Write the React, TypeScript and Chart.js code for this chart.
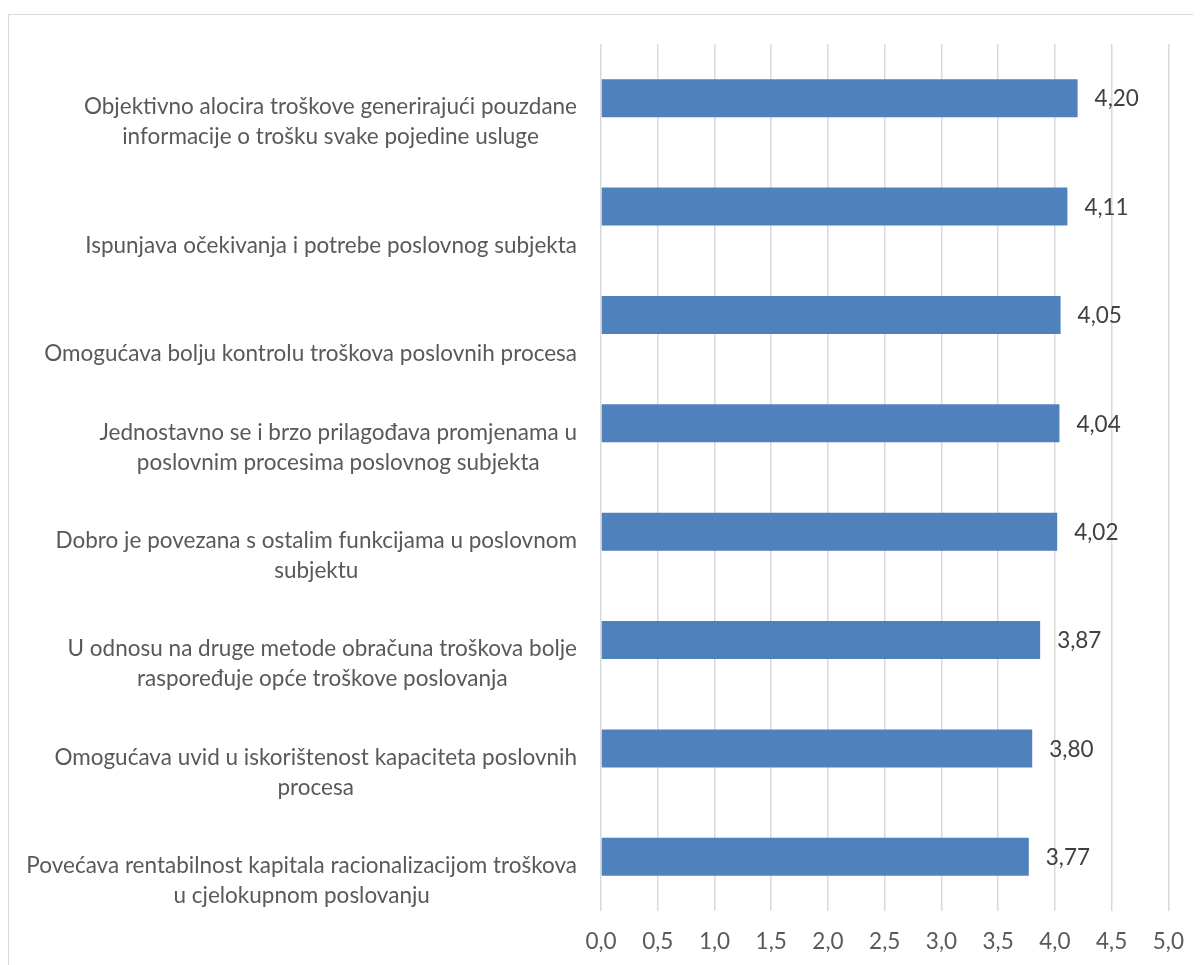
import React, { useEffect, useRef } from "react";
import { Chart, registerables } from "chart.js";

Chart.register(...registerables);

const categories: string[][] = [
  ["Objektivno alocira troškove generirajući pouzdane", "informacije o trošku svake pojedine usluge"],
  ["Ispunjava očekivanja i potrebe poslovnog subjekta"],
  ["Omogućava bolju kontrolu troškova poslovnih procesa"],
  ["Jednostavno se i brzo prilagođava promjenama u", "poslovnim procesima poslovnog subjekta"],
  ["Dobro je povezana s ostalim funkcijama u poslovnom", "subjektu"],
  ["U odnosu na druge metode obračuna troškova bolje", "raspoređuje opće troškove poslovanja"],
  ["Omogućava uvid u iskorištenost kapaciteta poslovnih", "procesa"],
  ["Povećava rentabilnost kapitala racionalizacijom troškova", "u cjelokupnom poslovanju"],
];

const values: number[] = [4.2, 4.11, 4.05, 4.04, 4.02, 3.87, 3.8, 3.77];

const xTicksMin = 0;
const xTicksMax = 5;
const xTickStep = 0.5;

const FONT_FAMILY = "Lato, 'Noto Sans', sans-serif";
const FONT_SIZE = 22.5;

const fmt = (v: number, d: number) => v.toFixed(d).replace(".", ",");

const yLabelPlugin = {
  id: "yLabelPlugin",
  afterDraw(chart: any) {
    const ctx = chart.ctx;
    const yScale = chart.scales.y;
    const area = chart.chartArea;
    ctx.save();
    ctx.font = `${FONT_SIZE}px ${FONT_FAMILY}`;
    ctx.fillStyle = "#595959";
    ctx.textBaseline = "middle";
    ctx.textAlign = "center";
    const right = area.left - 24;
    categories.forEach((lines, i) => {
      const y = yScale.getPixelForTick(i);
      const blockW = Math.max(...lines.map((l) => ctx.measureText(l).width));
      const cx = right - blockW / 2;
      const n = lines.length;
      lines.forEach((line, j) => {
        ctx.fillText(line, cx, y + 39 - 30 * (n - 1 - j));
      });
    });
    ctx.restore();
  },
};

const dataLabelPlugin = {
  id: "dataLabelPlugin",
  afterDatasetsDraw(chart: any) {
    const ctx = chart.ctx;
    const meta = chart.getDatasetMeta(0);
    ctx.save();
    ctx.font = `${FONT_SIZE}px ${FONT_FAMILY}`;
    ctx.fillStyle = "#404040";
    ctx.textBaseline = "middle";
    ctx.textAlign = "left";
    meta.data.forEach((bar: any, i: number) => {
      ctx.fillText(fmt(values[i], 2), bar.x + 17, bar.y + 1);
    });
    ctx.restore();
  },
};

export default function App() {
  const ref = useRef<HTMLCanvasElement | null>(null);

  useEffect(() => {
    if (!ref.current) return;
    const chart = new Chart(ref.current, {
      type: "bar",
      data: {
        labels: categories.map((c) => c.join(" ")),
        datasets: [
          {
            data: values,
            backgroundColor: "#4F81BD",
            borderColor: "#4F81BD",
            borderWidth: 0,
            barPercentage: 0.35,
            categoryPercentage: 1,
          },
        ],
      },
      options: {
        indexAxis: "y",
        animation: false,
        responsive: false,
        devicePixelRatio: 1,
        layout: { padding: { top: 29, right: 31, left: 0, bottom: 4 } },
        plugins: {
          legend: { display: false },
          tooltip: { enabled: false },
          title: { display: false },
        },
        scales: {
          x: {
            type: "linear",
            min: xTicksMin,
            max: xTicksMax,
            afterFit: (s: any) => {
              s.height = 50;
            },
            ticks: {
              stepSize: xTickStep,
              autoSkip: false,
              padding: 17,
              color: "#595959",
              font: { family: FONT_FAMILY, size: FONT_SIZE },
              callback: (v: any) => fmt(Number(v), 1),
            },
            grid: { color: "#d9d9d9", lineWidth: 1.5, drawTicks: false },
            border: { display: false },
          },
          y: {
            type: "category",
            afterFit: (s: any) => {
              s.width = 592;
            },
            ticks: { display: false },
            grid: { display: false },
            border: { display: false },
          },
        },
      },
      plugins: [yLabelPlugin, dataLabelPlugin],
    });
    return () => chart.destroy();
  }, []);

  return (
    <div style={{ width: 1193, height: 957, overflow: "hidden", position: "relative" }}>
      <div
        style={{
          position: "absolute",
          left: 0,
          top: 6,
          width: 1230,
          height: 990,
          border: "1px solid #d9d9d9",
          boxSizing: "border-box",
          background: "#fff",
        }}
      >
        <canvas
          ref={ref}
          width={1192}
          height={950}
          style={{ position: "absolute", left: 0, top: 0, width: 1192, height: 950 }}
        />
      </div>
    </div>
  );
}
